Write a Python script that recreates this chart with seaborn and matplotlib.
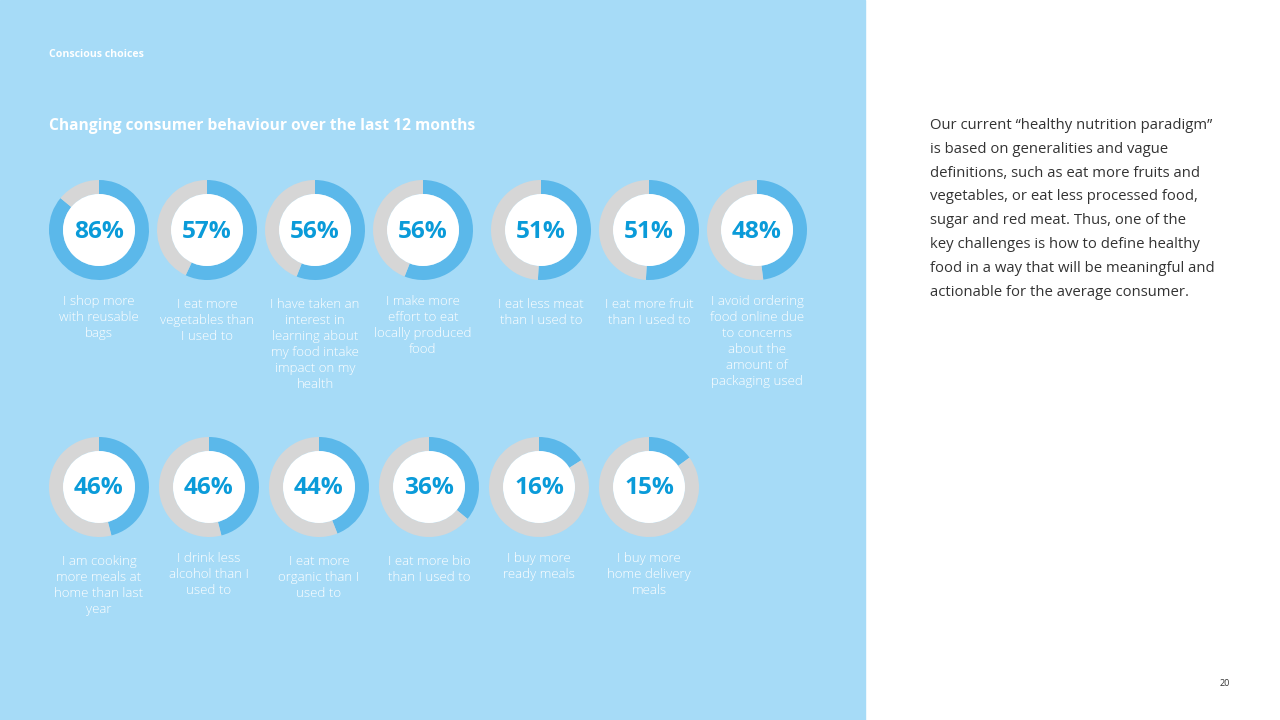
"""Conscious choices - donut grid of changing consumer behaviour."""
import matplotlib
matplotlib.use('Agg')
import matplotlib.pyplot as plt
from matplotlib.patches import Rectangle, Circle
import seaborn as sns

# values
row1_values = [86, 57, 56, 56, 51, 51, 48]
row1_labels = [
    'I shop more\nwith reusable\nbags',
    'I eat more\nvegetables than\nI used to',
    'I have taken an\ninterest in\nlearning about\nmy food intake\nimpact on my\nhealth',
    'I make more\neffort to eat\nlocally produced\nfood',
    'I eat less meat\nthan I used to',
    'I eat more fruit\nthan I used to',
    'I avoid ordering\nfood online due\nto concerns\nabout the\namount of\npackaging used',
]
row2_values = [46, 46, 44, 36, 16, 15]
row2_labels = [
    'I am cooking\nmore meals at\nhome than last\nyear',
    'I drink less\nalcohol than I\nused to',
    'I eat more\norganic than I\nused to',
    'I eat more bio\nthan I used to',
    'I buy more\nready meals',
    'I buy more\nhome delivery\nmeals',
]
paragraph = ('Our current \u201chealthy nutrition paradigm\u201d\n'
             'is based on generalities and vague\n'
             'definitions, such as eat more fruits and\n'
             'vegetables, or eat less processed food,\n'
             'sugar and red meat. Thus, one of the\n'
             'key challenges is how to define healthy\n'
             'food in a way that will be meaningful and\n'
             'actionable for the average consumer.')

sns.set_style('white')
plt.rcParams['font.family'] = ['Open Sans', 'DejaVu Sans']

BG = '#a6dbf7'
ARC = '#5bb8ea'
REST = '#d6d6d6'
PCT = '#0a9bd9'

fig = plt.figure(figsize=(12.8, 7.2), dpi=100)
ax = fig.add_axes([0, 0, 1, 1])
ax.set_axis_off()

# light blue panel on the left
ax.add_patch(Rectangle((0, 0), 865, 720, color=BG, zorder=0))

def donut(cx, cy, value, label, label_top):
    y = 720 - cy
    ax.pie([value, 100 - value], colors=[ARC, REST], startangle=90,
           counterclock=False, radius=50, center=(cx, y),
           wedgeprops=dict(width=14, linewidth=0), frame=False)
    ax.add_patch(Circle((cx, y), 36, facecolor='white', linewidth=0, zorder=3))
    ax.text(cx, y - 1.5, f'{value}%', ha='center', va='center', fontsize=17.6,
            fontweight='bold', color=PCT, zorder=4)
    ax.text(cx, 720 - label_top, label, ha='center', va='top', fontsize=9.5,
            color='white', linespacing=1.29, fontweight='light', zorder=4)

row1_x = [99, 207, 315, 423, 541, 649, 757]
row1_top = [295, 298, 298, 295, 298, 298, 295]
for x, v, lab, t in zip(row1_x, row1_values, row1_labels, row1_top):
    donut(x, 230, v, lab, t)

row2_x = [99, 209, 319, 429, 539, 649]
row2_top = [555, 552, 555, 555, 552, 552]
for x, v, lab, t in zip(row2_x, row2_values, row2_labels, row2_top):
    donut(x, 487, v, lab, t)

ax.set_xlim(0, 1280)
ax.set_ylim(0, 720)
ax.set_aspect('auto')

ax.text(49, 720 - 54.5, 'Conscious choices', ha='left', va='center',
        fontsize=7.6, fontweight='bold', color='white')
ax.text(49, 720 - 125.5, 'Changing consumer behaviour over the last 12 months',
        ha='left', va='center', fontsize=11.25, fontweight='bold', color='white')
ax.text(930, 720 - 118, paragraph, ha='left', va='top', fontsize=10.7,
        color='#333333', linespacing=1.8)
ax.text(1225, 720 - 684, '20', ha='center', va='center', fontsize=6.5,
        color='#333333')

fig.savefig('out.png', dpi=100)
